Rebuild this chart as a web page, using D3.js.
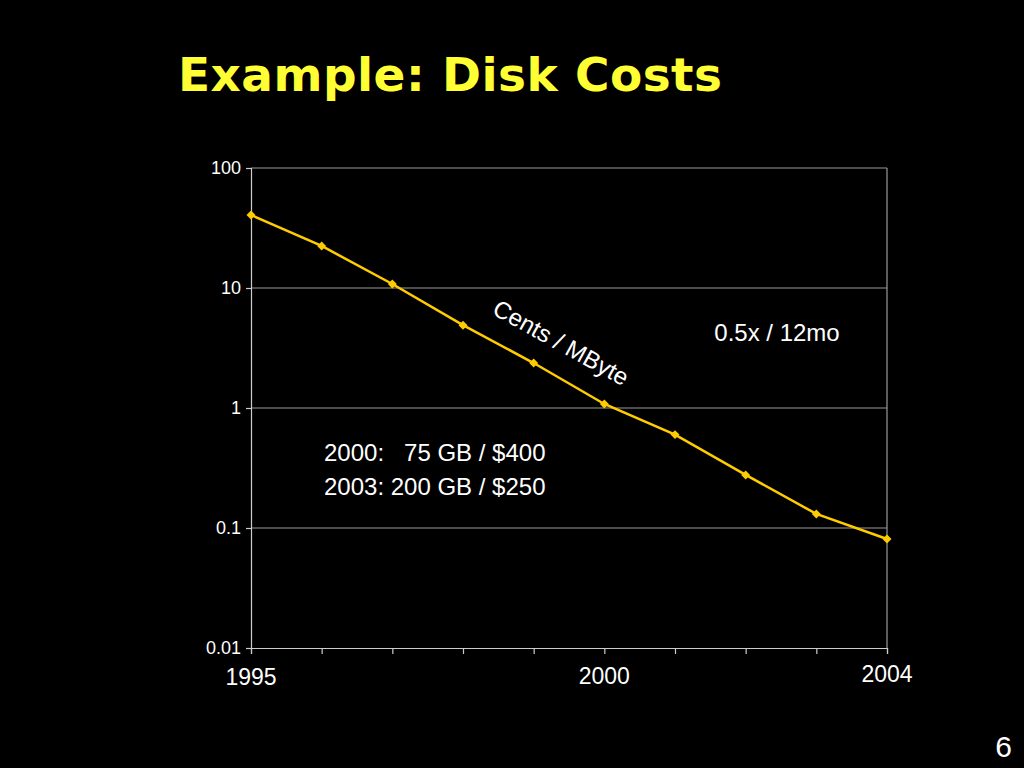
<!DOCTYPE html>
<html><head><meta charset="utf-8">
<script src="https://cdn.jsdelivr.net/npm/d3@7"></script>
<style>body{margin:0;background:#000}</style></head>
<body><svg id="c" width="1024" height="768"></svg>
<script>
const years=[1995,1996,1997,1998,1999,2000,2001,2002,2003,2004];
const cents=[40.6,22.4,10.8,4.9,2.37,1.08,0.6,0.277,0.131,0.081];
const yTicks=[100,10,1,0.1,0.01];
const yTickLabels=["100","10","1","0.1","0.01"];
const xLabels=[1995,2000,2004];

const svg=d3.select("#c");
svg.append("rect").attr("width",1024).attr("height",768).attr("fill","#000");
const x=d3.scaleLinear().domain([1995,2004]).range([251,887]);
const y=d3.scaleLog().domain([0.01,100]).range([648,168]);
const f="'Liberation Sans', Arial, sans-serif";

svg.append("text").attr("x",450).attr("y",91).attr("text-anchor","middle")
 .attr("fill","#ffff33").attr("font-family","'DejaVu Sans', Verdana, sans-serif")
 .attr("font-weight","bold").attr("font-size",47).attr("textLength",544).text("Example: Disk Costs");

svg.selectAll("line.g").data(yTicks.slice(0,4)).join("line")
 .attr("x1",251).attr("x2",887).attr("y1",d=>y(d)).attr("y2",d=>y(d))
 .attr("stroke","#999").attr("stroke-width",1.2);
svg.append("line").attr("x1",887).attr("x2",887).attr("y1",168).attr("y2",648).attr("stroke","#999").attr("stroke-width",1.2);

const ya=svg.append("g").attr("transform","translate(251,0)")
 .call(d3.axisLeft(y).tickValues(yTicks).tickFormat((d,i)=>yTickLabels[i]).tickSize(5));
const xa=svg.append("g").attr("transform","translate(0,648)")
 .call(d3.axisBottom(x).tickValues(years).tickFormat("").tickSize(6));
[ya,xa].forEach(a=>{a.selectAll("path,line").attr("stroke","#ccc").attr("stroke-width",1.2);
 a.selectAll("text").attr("fill","#fff").attr("font-family",f).attr("font-size",18);});
ya.selectAll("text").attr("dx",-2);

const lblY={1995:685,2000:684,2004:682};
svg.selectAll("text.xl").data(xLabels).join("text")
 .attr("x",d=>x(d)).attr("y",d=>lblY[d]).attr("text-anchor","middle")
 .attr("fill","#fff").attr("font-family",f).attr("font-size",23).text(d=>d);

const pts=years.map((d,i)=>[d,cents[i]]);
svg.append("path").datum(pts).attr("fill","none").attr("stroke","#ffcc00").attr("stroke-width",2.5)
 .attr("d",d3.line().x(d=>x(d[0])).y(d=>y(d[1])));
svg.selectAll("path.m").data(pts).join("path")
 .attr("transform",d=>`translate(${x(d[0])},${y(d[1])})`)
 .attr("d",d3.symbol(d3.symbolSquare,40)).attr("transform",d=>`translate(${x(d[0])},${y(d[1])}) rotate(45)`).attr("fill","#ffcc00");

svg.append("text").attr("transform","translate(557,350) rotate(29)").attr("text-anchor","middle")
 .attr("fill","#fff").attr("font-family",f).attr("font-size",24).text("Cents / MByte");
svg.append("text").attr("x",777).attr("y",341).attr("text-anchor","middle")
 .attr("fill","#fff").attr("font-family",f).attr("font-size",24).text("0.5x / 12mo");
svg.append("text").attr("x",324).attr("y",461).attr("xml:space","preserve")
 .attr("fill","#fff").attr("font-family",f).attr("font-size",24).text("2000:   75 GB / $400");
svg.append("text").attr("x",324).attr("y",495)
 .attr("fill","#fff").attr("font-family",f).attr("font-size",24).text("2003: 200 GB / $250");
svg.append("text").attr("x",1012).attr("y",757).attr("text-anchor","end")
 .attr("fill","#fff").attr("font-family",f).attr("font-size",30).text("6");
</script></body></html>
